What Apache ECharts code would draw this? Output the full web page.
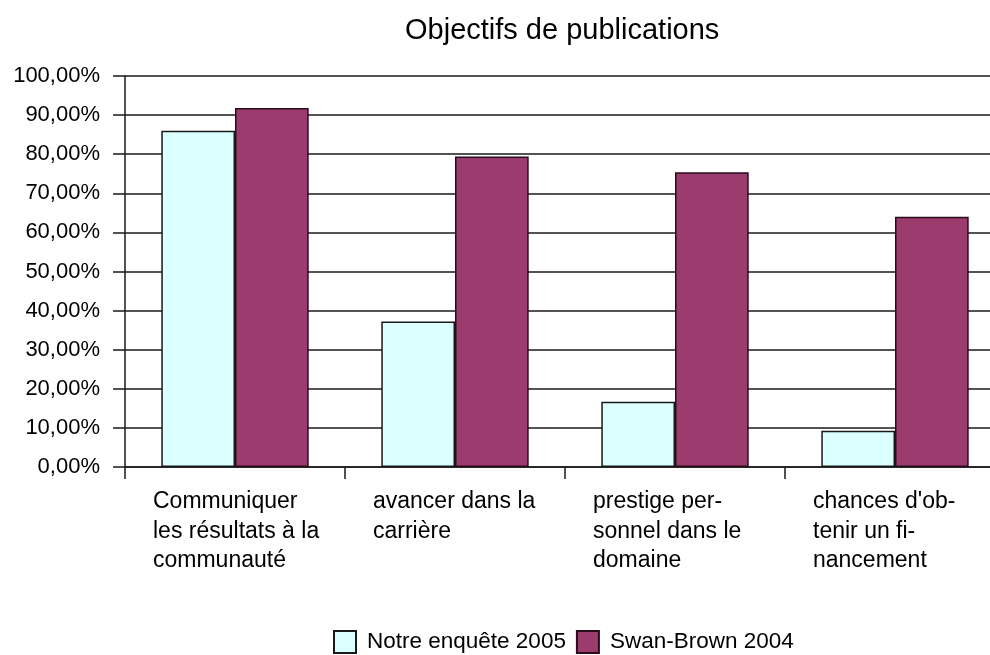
<!DOCTYPE html>
<html>
<head>
<meta charset="utf-8">
<title>Objectifs de publications</title>
<script src="https://cdn.jsdelivr.net/npm/echarts@6/dist/echarts.min.js"></script>
<style>
  html, body { margin: 0; padding: 0; background: #ffffff; width: 990px; height: 655px; overflow: hidden; }
  /* the plot runs past the right edge of the page, so the canvas is wider than the viewport */
  #chart { width: 1012px; height: 655px; }
</style>
</head>
<body>
<div id="chart"></div>
<script>
// Publication goals: share of respondents (percent)
const categories = [
  'Communiquer\nles résultats à la\ncommunauté',
  'avancer dans la\ncarrière',
  'prestige per-\nsonnel dans le\ndomaine',
  'chances d\'ob-\ntenir un fi-\nnancement'
];
const seriesNames = ['Notre enquête 2005', 'Swan-Brown 2004'];
const enquete2005 = [86.0, 37.2, 16.7, 9.3];
const swanBrown2004 = [91.8, 79.4, 75.4, 64.0];
const yTicks = { min: 0, max: 100, interval: 10 };

const FONT = '"Liberation Sans", Arial, Helvetica, sans-serif';
const LINE = '#1a1a1a';

const chart = echarts.init(document.getElementById('chart'), null, { renderer: 'canvas' });

chart.setOption({
  backgroundColor: '#ffffff',
  animation: false,
  title: {
    text: 'Objectifs de publications',
    left: 405,
    top: 16,
    padding: 0,
    textStyle: { fontFamily: FONT, fontSize: 29, fontWeight: 'normal', color: '#000' }
  },
  legend: {
    left: 333,
    top: 630,
    padding: 0,
    itemWidth: 22,
    itemHeight: 22,
    itemGap: 10,
    icon: 'rect',
    data: seriesNames,
    textStyle: { fontFamily: FONT, fontSize: 22.5, color: '#000', padding: [0, 0, 0, 6] }
  },
  grid: {
    left: 125,
    top: 76,
    width: 880,
    height: 391,
    containLabel: false
  },
  xAxis: {
    type: 'category',
    data: categories,
    boundaryGap: true,
    axisLine: { show: true, lineStyle: { color: LINE, width: 1.5 } },
    axisTick: { show: true, length: 12, alignWithLabel: false, lineStyle: { color: LINE, width: 1.5 } },
    axisLabel: {
      interval: 0,
      margin: 20,
      align: 'center',
      formatter: function (v) {
        return v.split('\n').map(function (l) { return '{a|' + l + '}'; }).join('\n');
      },
      rich: {
        a: {
          width: 164,
          align: 'left',
          fontFamily: FONT,
          fontSize: 23,
          lineHeight: 29.5,
          color: '#000'
        }
      }
    },
    splitLine: { show: false }
  },
  yAxis: {
    type: 'value',
    min: yTicks.min,
    max: yTicks.max,
    interval: yTicks.interval,
    axisLine: { show: true, lineStyle: { color: LINE, width: 1.5 } },
    axisTick: { show: true, length: 12, lineStyle: { color: LINE, width: 1.5 } },
    axisLabel: {
      margin: 25,
      fontFamily: FONT,
      fontSize: 22,
      color: '#000',
      formatter: function (v) { return v.toFixed(2).replace('.', ',') + '%'; }
    },
    splitLine: { show: true, lineStyle: { color: LINE, width: 1.5 } }
  },
  series: [
    {
      name: seriesNames[0],
      type: 'bar',
      data: enquete2005,
      barGap: '0%',
      barCategoryGap: '33%',
      itemStyle: { color: '#dcffff', borderColor: '#1a1a1a', borderWidth: 1.5 }
    },
    {
      name: seriesNames[1],
      type: 'bar',
      data: swanBrown2004,
      barGap: '0%',
      barCategoryGap: '33%',
      itemStyle: { color: '#9b3b6e', borderColor: '#2a0c1c', borderWidth: 1.5 }
    }
  ]
});
</script>
</body>
</html>
